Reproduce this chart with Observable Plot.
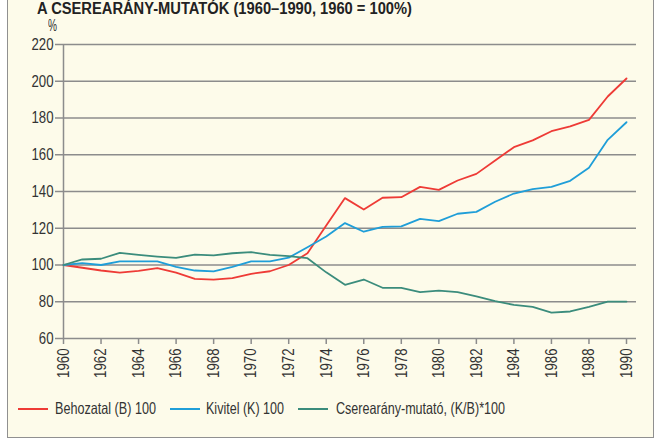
<!DOCTYPE html>
<html><head><meta charset="utf-8">
<script src="https://cdn.jsdelivr.net/npm/d3@7"></script>
<script src="https://cdn.jsdelivr.net/npm/@observablehq/plot@0.6"></script>
<style>
body{margin:0;background:#fff;}
#wrap{position:relative;width:662px;height:439px;overflow:hidden;font-family:"Liberation Sans",Arial,sans-serif;color:#333;}
#box{position:absolute;left:7px;top:-5px;width:647px;height:443px;background:#FDFBEA;border:1.5px solid #909090;box-sizing:border-box;}
#title{position:absolute;left:37px;top:1px;font-weight:bold;font-size:16px;line-height:16px;color:#222;white-space:nowrap;transform-origin:0 0;}
#pct{position:absolute;left:48px;top:18px;font-size:16px;line-height:16px;transform-origin:0 0;}
#chart{position:absolute;left:0;top:0;}
.sw{position:absolute;top:408px;width:30px;height:2px;}
.lt{position:absolute;top:399px;font-size:16.5px;white-space:nowrap;transform-origin:0 0;}
</style></head>
<body>
<div id="wrap">
  <div id="box"></div>
  <div id="title">A CSEREARÁNY-MUTATÓK (1960–1990, 1960 = 100%)</div>
  <div id="pct">%</div>
  <div id="chart"></div>
</div>
<script>
const years = [1960,1961,1962,1963,1964,1965,1966,1967,1968,1969,1970,1971,1972,1973,1974,1975,1976,1977,1978,1979,1980,1981,1982,1983,1984,1985,1986,1987,1988,1989,1990];
const behozatal = [100,98.5,97,95.8,96.8,98.3,95.8,92.5,92,92.9,95.2,96.6,100,106.4,121.5,136.4,130.2,136.6,136.9,142.5,140.9,146,149.6,156.9,164.1,167.8,172.8,175.4,179,191.7,201.5];
const kivitel = [100,101,100,102,102,102,99,97,96.5,99,102,102,104,109.7,115.5,122.8,118.1,120.8,121,125.1,123.9,127.9,128.9,134.4,138.9,141.3,142.5,145.8,152.9,168.1,177.7];
const cserearany = [100,103,103.4,106.6,105.5,104.6,103.9,105.7,105.2,106.4,107,105.5,104.8,103.7,96,89.2,92.1,87.6,87.6,85.2,86,85.2,82.9,80.3,78.3,77.2,74.1,74.7,77.2,80.1,80.1];
const seriesNames = ["Behozatal (B) 100","Kivitel (K) 100","Cserearány-mutató, (K/B)*100"];
const seriesColors = ["#EE3B36","#1F9ED8","#3B8C7C"];
const xTicks = [1960,1962,1964,1966,1968,1970,1972,1974,1976,1978,1980,1982,1984,1986,1988,1990];
const yTicks = [60,80,100,120,140,160,180,200,220];

const allSeries = [behozatal, kivitel, cserearany];
const rows = [];
allSeries.forEach((vals, si) => vals.forEach((v, i) => rows.push({year: years[i], value: v, series: seriesNames[si]})));

const grid = "#8c8c8c";
const chart = Plot.plot({
  width: 662, height: 390,
  marginLeft: 63, marginRight: 36, marginTop: 44, marginBottom: 52,
  style: {background: "transparent", fontFamily: '"Liberation Sans",Arial,sans-serif', fontSize: "16.5px", color: "#333"},
  x: {domain: [1960, 1990]},
  y: {domain: [60, 220]},
  color: {domain: seriesNames, range: seriesColors},
  marks: [
    Plot.ruleY(yTicks, {stroke: grid, strokeWidth: 1.5, insetRight: -10}),
    Plot.ruleX([1960], {stroke: grid, strokeWidth: 1.5}),
    Plot.axisX({ticks: xTicks, tickFormat: d => String(d), tickRotate: -90, tickSize: 6, tickPadding: 4, stroke: grid, strokeWidth: 1.5, label: null}),
    Plot.axisY({ticks: yTicks, tickSize: 8, tickPadding: 2, stroke: grid, strokeWidth: 1.5, label: null}),
    Plot.line(rows, {x: "year", y: "value", z: "series", stroke: "series", strokeWidth: 1.8})
  ]
});
document.getElementById("chart").append(chart);

// narrow the tick label glyphs (reference uses a condensed sans)
chart.querySelectorAll("text").forEach(t => {
  const len = t.getComputedTextLength();
  if (len > 0) {
    t.setAttribute("textLength", (len * 0.8).toFixed(2));
    t.setAttribute("lengthAdjust", "spacingAndGlyphs");
  }
});

function fitWidth(el, target) {
  const w = el.getBoundingClientRect().width;
  el.style.transform = `scaleX(${target / w})`;
}
fitWidth(document.getElementById("title"), 375);
fitWidth(document.getElementById("pct"), 9);

const wrap = document.getElementById("wrap");
const swX = [18, 170, 298], txX = [55, 206, 336], txW = [101, 78, 169];
seriesNames.forEach((n, i) => {
  const sw = document.createElement("div"); sw.className = "sw";
  sw.style.left = swX[i] + "px"; sw.style.background = seriesColors[i];
  const tx = document.createElement("div"); tx.className = "lt";
  tx.style.left = txX[i] + "px"; tx.textContent = n;
  wrap.append(sw, tx);
  fitWidth(tx, txW[i]);
});
</script>
</body></html>
